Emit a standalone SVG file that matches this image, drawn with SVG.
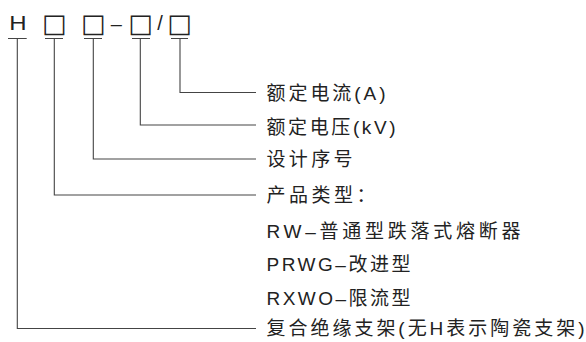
<svg xmlns="http://www.w3.org/2000/svg" width="586" height="342" viewBox="0 0 586 342">
<style>
.t{font-family:"Liberation Sans","Noto Sans CJK SC",sans-serif;font-size:19px;fill:#222}
.h{font-family:"Liberation Sans","Noto Sans CJK SC",sans-serif;font-size:20px;fill:#222}
.b{font-family:"DejaVu Sans",sans-serif;font-size:26px;fill:#222}
.c{fill:none;stroke:#444;stroke-width:1.1}
</style>
<rect width="586" height="342" fill="#fff"/>
<g id="code">
<text class="h" text-anchor="middle" transform="translate(18,30) scale(1.2,1)">H</text>
<text class="b" x="54.3" y="31.5" text-anchor="middle">□</text>
<text class="b" x="93.3" y="31.5" text-anchor="middle">□</text>
<text class="h" x="116.4" y="30.5" text-anchor="middle">–</text>
<text class="b" x="140.5" y="31.5" text-anchor="middle">□</text>
<text class="h" x="160" y="30" text-anchor="middle">/</text>
<text class="b" x="179.6" y="31.5" text-anchor="middle">□</text>
</g>
<g id="connectors">
<path class="c" d="M8,38.5H26.7M45,38.5H63M84,38.5H102M132,38.5H150M171,38.5H188"/>
<path class="c" d="M180,38.5V92.5H256"/>
<path class="c" d="M140.3,38.5V125H256"/>
<path class="c" d="M93.3,38.5V159H256"/>
<path class="c" d="M54.3,38.5V195H256"/>
<path class="c" d="M17.3,38.5V328.5H256"/>
</g>
<g id="n-current"><text class="t" x="266.5" y="100.3" textLength="119" lengthAdjust="spacing">额定电流(A)</text></g>
<g id="n-voltage"><text class="t" x="266.5" y="133.5" textLength="129" lengthAdjust="spacing">额定电压(kV)</text></g>
<g id="n-serial"><text class="t" x="266.5" y="166" textLength="86" lengthAdjust="spacing">设计序号</text></g>
<g id="n-type">
<text class="t" x="266.5" y="201.5" textLength="109" lengthAdjust="spacing">产品类型：</text>
<text class="t" x="266.5" y="238" textLength="254" lengthAdjust="spacing">RW–普通型跌落式熔断器</text>
<text class="t" x="266.5" y="271" textLength="144" lengthAdjust="spacing">PRWG–改进型</text>
<text class="t" x="266.5" y="304.5" textLength="144" lengthAdjust="spacing">RXWO–限流型</text>
</g>
<g id="n-support"><text class="t" x="266.5" y="334.5" textLength="318" lengthAdjust="spacing">复合绝缘支架(无H表示陶瓷支架)</text></g>
</svg>
